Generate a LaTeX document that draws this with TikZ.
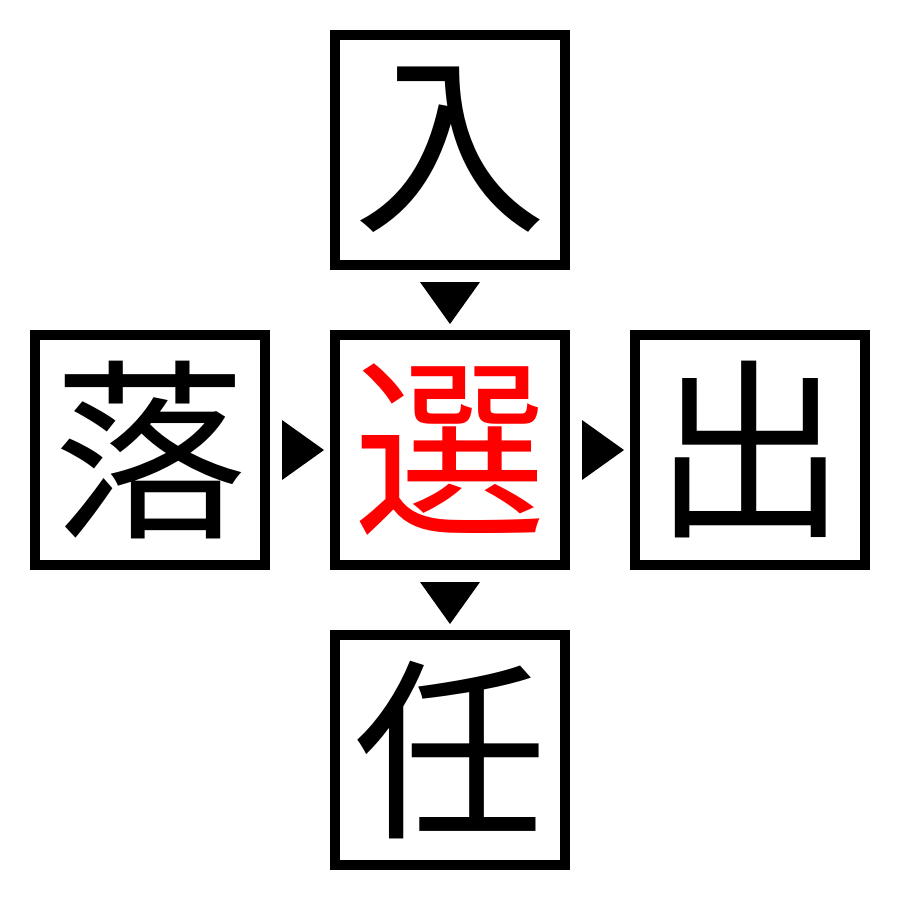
\documentclass[tikz,border=0pt]{standalone}
\usepackage{fontspec}
\newfontfamily\cjkfont{Noto Sans CJK JP}
\usetikzlibrary{calc}
\tikzset{
  kbox/.style={draw=black, line width=0.1cm, minimum size=2.3cm, inner sep=0pt, font=\cjkfont\fontsize{55}{55}\selectfont},
  tri/.style={fill=black, draw=none}
}
\begin{document}
\begin{tikzpicture}
\useasboundingbox (0,0) rectangle (9,-9);
\node[kbox] (top) at (4.5,-1.5) {入};
\node[kbox, text=red] (mid) at (4.5,-4.5) {選};
\node[kbox] (left) at (1.5,-4.5) {落};
\node[kbox] (right) at (7.5,-4.5) {出};
\node[kbox] (bot) at (4.5,-7.5) {任};
% down triangles
\fill[tri] ($(top.south)+(-0.3,-0.12)$) -- ($(top.south)+(0.3,-0.12)$) -- ($(mid.north)+(0,0.06)$) -- cycle;
\fill[tri] ($(mid.south)+(-0.3,-0.12)$) -- ($(mid.south)+(0.3,-0.12)$) -- ($(bot.north)+(0,0.06)$) -- cycle;
% right triangles
\fill[tri] ($(left.east)+(0.12,0.3)$) -- ($(left.east)+(0.12,-0.3)$) -- ($(mid.west)+(-0.06,0)$) -- cycle;
\fill[tri] ($(mid.east)+(0.12,0.3)$) -- ($(mid.east)+(0.12,-0.3)$) -- ($(right.west)+(-0.06,0)$) -- cycle;
\end{tikzpicture}
\end{document}
